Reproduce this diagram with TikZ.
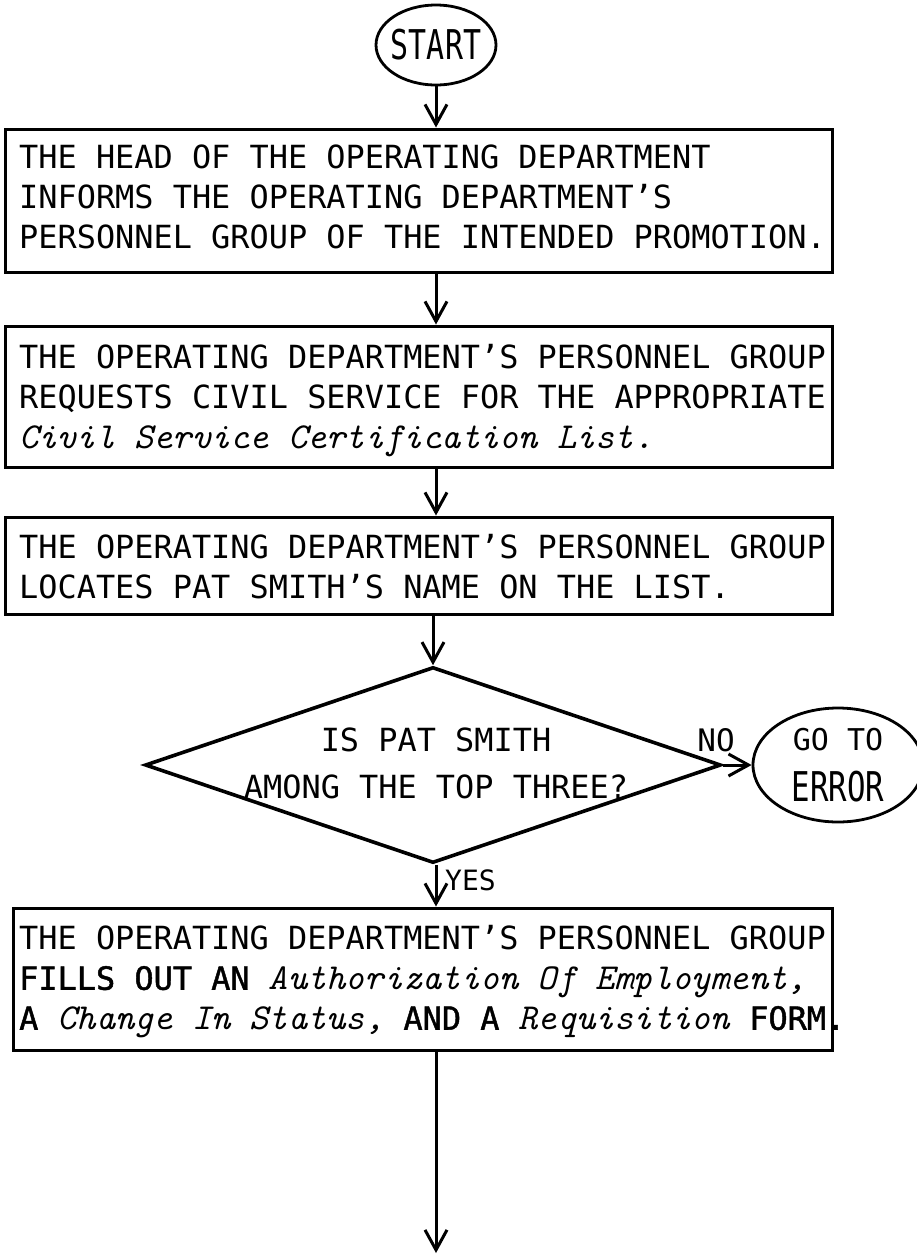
\documentclass[tikz,border=0pt]{standalone}
\usepackage{fontspec}
\usetikzlibrary{arrows.meta,shapes.geometric}
\newfontfamily\capsfont{DejaVu Sans Mono}
% slightly heavier strike for the emphasised words of the last step
\newfontfamily\capsheavy{DejaVu Sans Mono}[FakeBold=1.4]
% typewriter italic for form and list titles (Latin Modern Mono, same pitch)
\newcommand\formname[1]{{\fontsize{36.6}{40}\selectfont\ttfamily\itshape #1}}
\newcommand\heavy[1]{{\capsheavy #1}}
\begin{document}
\begin{tikzpicture}[x=1pt,y=-1pt,
  stepbox/.style={draw, rectangle, line width=3pt, inner sep=0pt},
  boxtext/.style={anchor=north west, inner sep=0pt, align=left,
    font=\capsfont\fontsize{31.9}{40}\selectfont},
  flow/.style={draw, line width=3pt, -{Straight Barb[length=20pt,width=22pt]}},
  terminal/.style={draw, ellipse, line width=2.8pt, inner sep=0pt},
  decision/.style={draw, diamond, line width=3.6pt, inner sep=0pt},
  lbl/.style={inner sep=0pt, font=\capsfont\fontsize{30}{30}\selectfont}
]
\useasboundingbox (0,0) rectangle (917,1254);

% spine of the main flow
\coordinate (spine) at (436,0);

% start terminal
\node[terminal, minimum width=120pt, minimum height=80pt, inner xsep=-4pt] (start) at (436,45)
  {\capsfont\scalebox{0.73}[1]{\fontsize{41}{41}\selectfont START}};

% step 1
\node[stepbox, minimum width=827pt, minimum height=143pt] (b1) at (418.5,200.5) {};
\node[boxtext] (b1t) at (19,144.3)
  {THE HEAD OF THE OPERATING DEPARTMENT\\
   INFORMS THE OPERATING DEPARTMENT’S\\
   PERSONNEL GROUP OF THE INTENDED PROMOTION.};

% step 2
\node[stepbox, minimum width=827pt, minimum height=141pt] (b2) at (418.5,396.5) {};
\node[boxtext] (b2t) at (19,344.3)
  {THE OPERATING DEPARTMENT’S PERSONNEL GROUP\\
   REQUESTS CIVIL SERVICE FOR THE APPROPRIATE\\
   \formname{Civil Service Certification List.}};

% step 3
\node[stepbox, minimum width=827pt, minimum height=97pt] (b3) at (418.5,565.5) {};
\node[boxtext] (b3t) at (19,534.3)
  {THE OPERATING DEPARTMENT’S PERSONNEL GROUP\\
   LOCATES PAT SMITH’S NAME ON THE LIST.};

% decision
\node[decision, minimum width=576pt, minimum height=196pt] (q) at (433,765) {};
\node[inner sep=0pt, align=center, font=\capsfont\fontsize{31.9}{47}\selectfont] (qt) at (436,763)
  {IS PAT SMITH\\AMONG THE TOP THREE?};

% error terminal
\node[terminal, minimum width=170pt, minimum height=114pt, align=center] (err) at (838,765)
  {\capsfont\fontsize{30}{30}\selectfont GO TO\\[19pt]
   \capsfont\scalebox{0.75}[1]{\fontsize{41}{41}\selectfont ERROR}};

% step 4
\node[stepbox, minimum width=819pt, minimum height=142pt] (b4) at (422.5,979) {};
\node[boxtext] (b4t) at (19,925.3)
  {THE OPERATING DEPARTMENT’S PERSONNEL GROUP\\
   \heavy{FILLS OUT AN} \formname{Authorization Of Employment,}\\
   \heavy{A} \formname{Change In Status,} \heavy{AND A} \formname{Requisition} \heavy{FORM.}};

\coordinate (tail) at (436,1253);

% connectors
\draw[flow] (start.south) -- (b1.north -| spine);
\draw[flow] (b1.south -| spine) -- (b2.north -| spine);
\draw[flow] (b2.south -| spine) -- (b3.north -| spine);
\draw[flow] (b3.south -| q.north) -- (q.north);
\draw[flow] (q.east) -- (err.west);
\node[lbl, anchor=south, font=\capsfont\fontsize{31}{31}\selectfont] (no) at (716,752) {NO};
\draw[flow] (q.south -| spine) -- (b4.north -| spine);
\node[lbl, anchor=west, font=\capsfont\fontsize{28}{28}\selectfont] (yes) at (445,880) {YES};
\draw[flow] (b4.south -| spine) -- (tail);
\end{tikzpicture}
\end{document}
